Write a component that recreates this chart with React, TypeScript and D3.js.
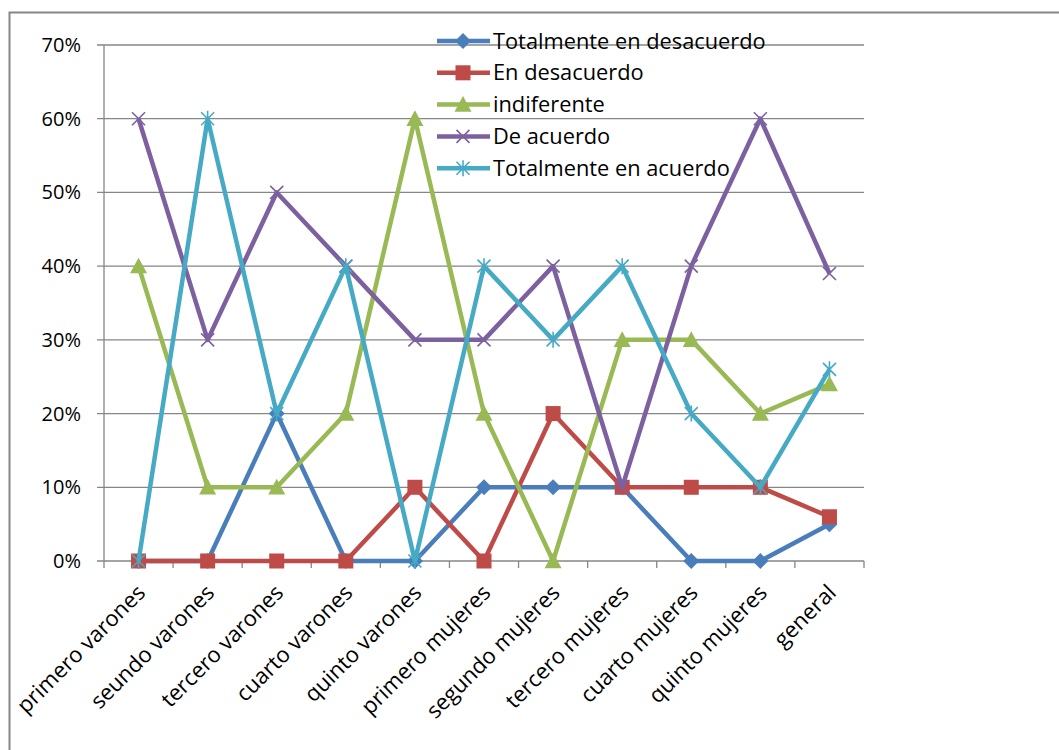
import React from "react";
import * as d3 from "d3";

const categories = [
  "primero varones",
  "seundo varones",
  "tercero varones",
  "cuarto varones",
  "quinto varones",
  "primero mujeres",
  "segundo mujeres",
  "tercero mujeres",
  "cuarto mujeres",
  "quinto mujeres",
  "general",
];

const totDesacuerdo = [0, 0, 20, 0, 0, 10, 10, 10, 0, 0, 5];
const enDesacuerdo = [0, 0, 0, 0, 10, 0, 20, 10, 10, 10, 6];
const indiferente = [40, 10, 10, 20, 60, 20, 0, 30, 30, 20, 24];
const deAcuerdo = [60, 30, 50, 40, 30, 30, 40, 10, 40, 60, 39];
const totAcuerdo = [0, 60, 20, 40, 0, 40, 30, 40, 20, 10, 26];

const yTicks = [0, 10, 20, 30, 40, 50, 60, 70];

const seriesNames = [
  "Totalmente en desacuerdo",
  "En desacuerdo",
  "indiferente",
  "De acuerdo",
  "Totalmente en acuerdo",
];
const seriesValues = [totDesacuerdo, enDesacuerdo, indiferente, deAcuerdo, totAcuerdo];
const seriesColors = ["#4A7EBB", "#BE4B48", "#98B954", "#7D60A0", "#46AAC5"];
const seriesMarkers = ["diamond", "square", "triangle", "x", "star"];

const FONT = "'Open Sans', Lato, 'Liberation Sans', sans-serif";
const GRID = "#868686";

function Marker({ type, x, y, color }: { type: string; x: number; y: number; color: string }) {
  if (type === "diamond") {
    const s = 8;
    return <path d={`M${x},${y - s}L${x + s},${y}L${x},${y + s}L${x - s},${y}Z`} fill={color} />;
  }
  if (type === "square") {
    const s = 7.5;
    return <rect x={x - s} y={y - s} width={2 * s} height={2 * s} fill={color} />;
  }
  if (type === "triangle") {
    const s = 8.5;
    return <path d={`M${x},${y - s}L${x + s},${y + s * 0.85}L${x - s},${y + s * 0.85}Z`} fill={color} />;
  }
  if (type === "x") {
    const s = 6.5;
    return (
      <path
        d={`M${x - s},${y - s}L${x + s},${y + s}M${x - s},${y + s}L${x + s},${y - s}`}
        stroke={color}
        strokeWidth={1.6}
        fill="none"
      />
    );
  }
  const s = 6.5;
  return (
    <path
      d={`M${x - s},${y - s}L${x + s},${y + s}M${x - s},${y + s}L${x + s},${y - s}M${x},${y - s - 1.5}L${x},${y + s + 1.5}`}
      stroke={color}
      strokeWidth={1.6}
      fill="none"
    />
  );
}

export default function App() {
  const W = 1059;
  const H = 750;
  const left = 104;
  const right = 864;
  const top = 45;
  const bottom = 561;

  const x = d3.scaleBand<string>().domain(categories).range([left, right]);
  const y = d3.scaleLinear().domain([0, 70]).range([bottom, top]);
  const cx = (c: string) => (x(c) as number) + x.bandwidth() / 2;

  const line = d3
    .line<number>()
    .x((_, i) => cx(categories[i]))
    .y((d) => y(d));

  const boundaries = categories.map((c) => x(c) as number).concat([right]);

  const legendX = 437;
  const legendY0 = 41;
  const legendDy = 31.8;

  return (
    <svg
      width={W}
      height={H}
      style={{ position: "absolute", left: 0, top: 0, background: "#fff" }}
      fontFamily={FONT}
    >
      <rect x={9.5} y={12.5} width={W + 20} height={H + 20} fill="#fff" stroke={GRID} strokeWidth={2} />
      {/* gridlines */}
      {yTicks.map((t) => (
        <line key={t} x1={left - 7} x2={right} y1={y(t)} y2={y(t)} stroke={GRID} strokeWidth={1.3} />
      ))}
      {/* y axis */}
      <line x1={left} x2={left} y1={top} y2={bottom} stroke={GRID} strokeWidth={1.3} />
      {yTicks.map((t) => (
        <text key={"l" + t} x={81} y={y(t)} dy="0.35em" textAnchor="end" fontSize={20} fill="#000">
          {t}%
        </text>
      ))}
      {/* x axis ticks */}
      {boundaries.map((b, i) => (
        <line key={"b" + i} x1={b} x2={b} y1={bottom} y2={bottom + 7} stroke={GRID} strokeWidth={1.3} />
      ))}
      {categories.map((c) => (
        <text
          key={c}
          transform={`translate(${cx(c) + 8},${bottom + 33}) rotate(-45)`}
          textAnchor="end"
          fontSize={22}
          fill="#000"
        >
          {c}
        </text>
      ))}
      {/* series */}
      {seriesValues.map((vals, si) => (
        <g key={si}>
          <path d={line(vals) as string} fill="none" stroke={seriesColors[si]} strokeWidth={4.5} strokeLinejoin="round" />
          {vals.map((v, i) => (
            <Marker key={i} type={seriesMarkers[si]} x={cx(categories[i])} y={y(v)} color={seriesColors[si]} />
          ))}
        </g>
      ))}
      {/* legend */}
      {seriesNames.map((n, i) => {
        const ly = legendY0 + i * legendDy;
        return (
          <g key={n}>
            <line x1={legendX} x2={legendX + 53} y1={ly} y2={ly} stroke={seriesColors[i]} strokeWidth={4.5} />
            <Marker type={seriesMarkers[i]} x={legendX + 26} y={ly} color={seriesColors[i]} />
            <text x={legendX + 56} y={ly} dy="0.35em" fontSize={21.8} fill="#000">
              {n}
            </text>
          </g>
        );
      })}
    </svg>
  );
}
